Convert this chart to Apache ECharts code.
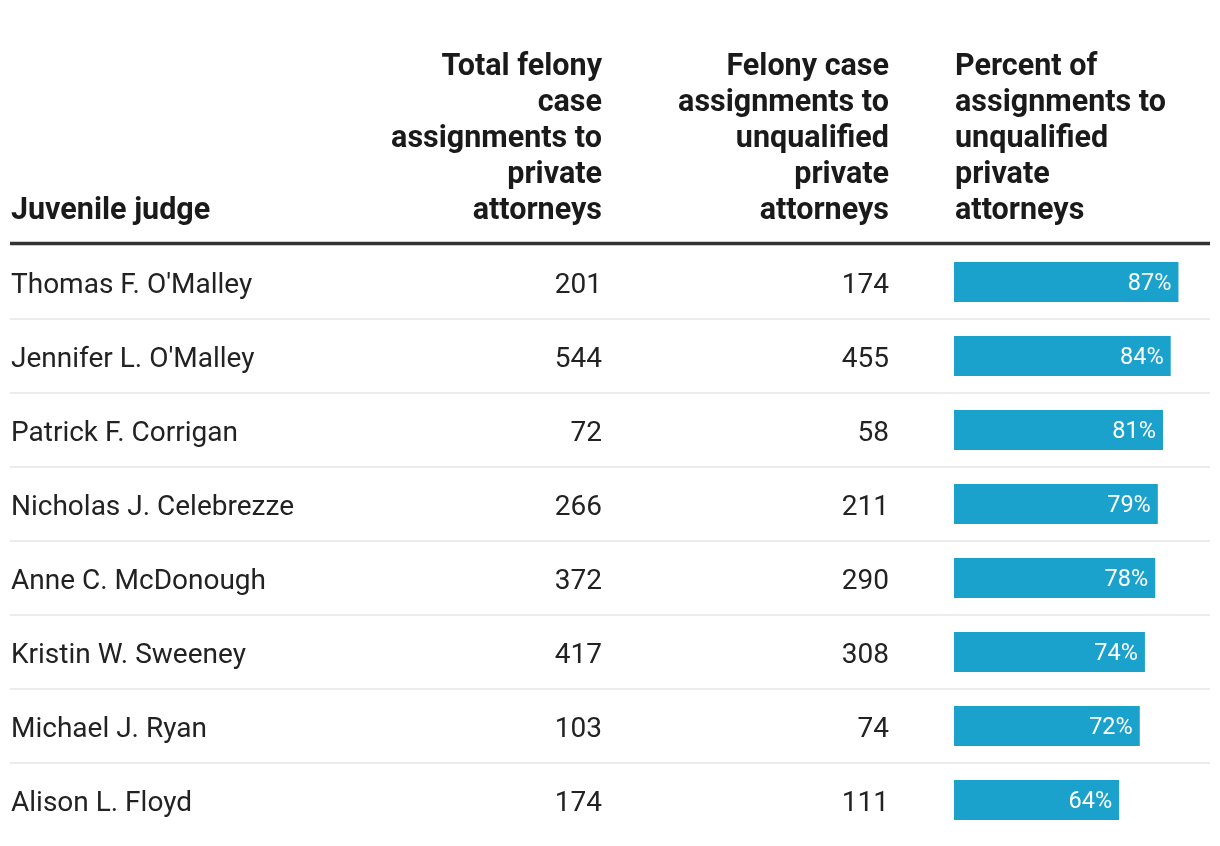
<!DOCTYPE html>
<html><head><meta charset="utf-8">
<script src="https://cdn.jsdelivr.net/npm/echarts@6/dist/echarts.min.js"></script>
<style>html,body{margin:0;padding:0;background:#fff}#c{width:1220px;height:846px}</style>
</head><body><div id="c"></div>
<script>
const judges = ["Thomas F. O'Malley","Jennifer L. O'Malley","Patrick F. Corrigan","Nicholas J. Celebrezze","Anne C. McDonough","Kristin W. Sweeney","Michael J. Ryan","Alison L. Floyd"];
const totalAssignments = [201,544,72,266,372,417,103,174];
const unqualifiedAssignments = [174,455,58,211,290,308,74,111];
const percentUnqualified = [87,84,81,79,78,74,72,64];
const headers = ["Juvenile judge","Total felony\ncase\nassignments to\nprivate\nattorneys","Felony case\nassignments to\nunqualified\nprivate\nattorneys","Percent of\nassignments to\nunqualified\nprivate\nattorneys"];

const FONT = 'Roboto, "Noto Sans", sans-serif';
const chart = echarts.init(document.getElementById('c'), null, {renderer:'canvas'});
const hidden = {axisLine:{show:false},axisTick:{show:false}};
const bodyLabel = {interval:0,verticalAlign:'middle',
  formatter:function(v){return '{a|'+v+'}';},
  rich:{a:{fontFamily:FONT,fontSize:28,color:'#222',padding:[7,0,0,0]}}};
const GRID_TOP = 245, GRID_BOTTOM = 9;
const HFONT = 'bold 30.5px ' + FONT;
chart.setOption({
  animation:false,
  backgroundColor:'#fff',
  grid:[
    {left:10,right:10,top:GRID_TOP,bottom:GRID_BOTTOM},
    {left:954,right:8,top:GRID_TOP,bottom:GRID_BOTTOM}
  ],
  xAxis:[
    {gridIndex:0,type:'value',min:0,max:1,show:false},
    {gridIndex:1,type:'value',min:0,max:100,show:false}
  ],
  yAxis:[
    Object.assign({gridIndex:0,type:'category',inverse:true,data:judges,
      axisLabel:Object.assign({align:'left',margin:-1},bodyLabel),
      splitLine:{show:true,interval:function(i){return i>0;},lineStyle:{color:'#e6e6e6',width:1.5}}},hidden),
    Object.assign({gridIndex:0,type:'category',inverse:true,data:totalAssignments.map(String),position:'left',
      axisLabel:Object.assign({align:'right',margin:-592},bodyLabel),splitLine:{show:false}},hidden),
    Object.assign({gridIndex:0,type:'category',inverse:true,data:unqualifiedAssignments.map(String),position:'left',
      axisLabel:Object.assign({align:'right',margin:-879},bodyLabel),splitLine:{show:false}},hidden),
    Object.assign({gridIndex:1,type:'category',inverse:true,data:judges,axisLabel:{show:false},splitLine:{show:false}},hidden)
  ],
  series:[
    {type:'scatter',xAxisIndex:0,yAxisIndex:0,data:[],silent:true},
    {type:'bar',xAxisIndex:1,yAxisIndex:3,data:percentUnqualified,barWidth:40,silent:true,
     itemStyle:{color:'#1aa1cc'},
     label:{show:true,position:'insideRight',distance:7,
       formatter:function(p){return '{b|'+p.value+'%}';},
       rich:{b:{color:'#fff',fontFamily:FONT,fontSize:23.5,padding:[4,0,0,0]}}}}
  ],
  graphic:[
    {type:'line',shape:{x1:10,y1:243.5,x2:1210,y2:243.5},style:{stroke:'#333',lineWidth:3.5},z:100},
    {type:'line',shape:{x1:0,y1:837,x2:1220,y2:837},style:{stroke:'#fff',lineWidth:4},z:100},
    {type:'text',x:11,y:229,style:{text:headers[0],align:'left',verticalAlign:'bottom',font:HFONT,lineHeight:36,fill:'#1a1a1a'}},
    {type:'text',x:602,y:229,style:{text:headers[1],align:'right',verticalAlign:'bottom',font:HFONT,lineHeight:36,fill:'#1a1a1a'}},
    {type:'text',x:889,y:229,style:{text:headers[2],align:'right',verticalAlign:'bottom',font:HFONT,lineHeight:36,fill:'#1a1a1a'}},
    {type:'text',x:955,y:229,style:{text:headers[3],align:'left',verticalAlign:'bottom',font:HFONT,lineHeight:36,fill:'#1a1a1a'}}
  ]
});
</script></body></html>
